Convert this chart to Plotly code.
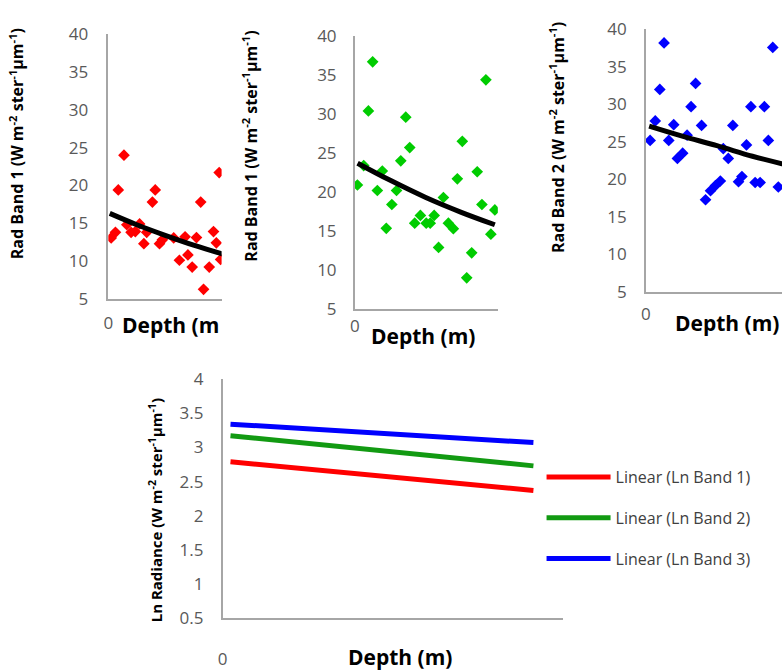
import plotly.graph_objects as go

W, H = 782, 671


def fx(px):
    return px / W


def fy(py):
    return 1 - py / H


# ---------------- data ----------------
# Panel 1: Rad Band 1 (red)
p1_depth = [0.2, 0.5, 0.7, 1.1, 1.3, 1.6, 1.9, 2.2, 2.5, 2.7, 3.1, 3.3, 3.6, 3.8,
            4.6, 5.0, 5.4, 5.6, 5.9, 6.2, 6.5, 6.7, 7.1, 7.4, 7.6, 7.8, 7.9]
p1_rad = [13.05, 13.8, 19.4, 24.0, 14.8, 13.8, 13.9, 14.9, 12.3, 13.8, 17.8, 19.4, 12.3, 12.8,
          13.05, 10.1, 13.2, 10.8, 9.2, 13.1, 17.8, 6.25, 9.2, 13.9, 12.4, 21.7, 10.2]
p1_trend_depth = [0.1, 2.0, 4.0, 6.0, 8.0, 10.0]
p1_trend_rad = [16.3, 14.8, 13.4, 12.1, 10.95, 9.9]

# Panel 2: Rad Band 1 (green)
p2_depth = [0.19, 0.63, 0.96, 1.26, 1.59, 1.94, 2.22, 2.61, 2.94, 3.24, 3.59, 3.87, 4.22, 4.62,
            5.03, 5.31, 5.59, 5.90, 6.24, 6.59, 6.94, 7.22, 7.57, 7.88, 8.23, 8.62, 8.95, 9.23,
            9.58, 9.86]
p2_rad = [20.9, 23.4, 30.4, 36.7, 20.2, 22.7, 15.35, 18.4, 20.2, 24.0, 29.6, 25.7, 16.0, 17.0,
          16.0, 16.0, 17.0, 12.9, 19.3, 16.0, 15.3, 21.7, 26.5, 9.0, 12.2, 22.6, 18.4, 34.4,
          14.6, 17.7]
p2_trend_depth = [0.2, 2.5, 5.0, 7.5, 9.86]
p2_trend_rad = [23.7, 21.5, 19.3, 17.4, 15.8]

# Panel 3: Rad Band 2 (blue)
p3_depth = [0.30, 0.66, 0.98, 1.28, 1.61, 1.96, 2.22, 2.59, 2.90, 3.18, 3.50, 3.92, 4.20, 4.55,
            4.90, 5.24, 5.45, 5.80, 6.12, 6.52, 6.76, 7.08, 7.39, 7.69, 8.04, 8.34, 8.62, 8.93,
            9.32]
p3_rad = [25.2, 27.8, 32.0, 38.2, 25.2, 27.3, 22.8, 23.5, 25.9, 29.7, 32.8, 27.2, 17.3, 18.5,
          19.2, 19.8, 24.1, 22.8, 27.2, 19.7, 20.4, 24.6, 29.7, 19.6, 19.6, 29.7, 25.2, 37.6,
          19.0]
p3_trend_depth = [0.23, 2.5, 5.0, 7.5, 9.58, 10.5]
p3_trend_rad = [27.1, 25.8, 24.5, 23.1, 22.1, 21.7]

# Bottom: linear trends of Ln radiance
ln_depth = [0.26, 10.26]
ln_band1 = [2.79, 2.37]
ln_band2 = [3.17, 2.73]
ln_band3 = [3.34, 3.07]

rad_ticks = [5, 10, 15, 20, 25, 30, 35, 40]
ln_ticks = [0.5, 1, 1.5, 2, 2.5, 3, 3.5, 4]
ln_ticktext = ["0.5", "1", "1.5", "2", "2.5", "3", "3.5", "4"]

# ---------------- styles ----------------
FONT = "Open Sans"
TICK_FONT = dict(family=FONT, size=17, color="#595959")
AX_COLOR = "#A6A6A6"
RED, GREEN_PT, GREEN_LN, BLUE = "#FF0000", "#00CC00", "#129A12", "#0000FF"

fig = go.Figure()

# Top panels
for (dx, dy, col, ax) in [
    (p1_depth, p1_rad, RED, ""),
    (p2_depth, p2_rad, GREEN_PT, "2"),
    (p3_depth, p3_rad, BLUE, "3"),
]:
    fig.add_trace(go.Scatter(x=dx, y=dy, mode="markers", showlegend=False,
                             marker=dict(symbol="diamond", size=9, color=col),
                             xaxis="x" + ax, yaxis="y" + ax))

for (tx, ty, ax) in [
    (p1_trend_depth, p1_trend_rad, ""),
    (p2_trend_depth, p2_trend_rad, "2"),
    (p3_trend_depth, p3_trend_rad, "3"),
]:
    fig.add_trace(go.Scatter(x=tx, y=ty, mode="lines", showlegend=False,
                             line=dict(color="black", width=5, shape="spline"),
                             xaxis="x" + ax, yaxis="y" + ax))

# Bottom panel
for (vals, col, name, grp) in [
    (ln_band1, RED, "Linear (Ln Band 1)", "g1"),
    (ln_band2, GREEN_LN, "Linear (Ln Band 2)", "g2"),
    (ln_band3, BLUE, "Linear (Ln Band 3)", "g3"),
]:
    fig.add_trace(go.Scatter(x=ln_depth, y=vals, mode="lines", name=name, legendgroup=grp,
                             line=dict(color=col, width=5), xaxis="x4", yaxis="y4"))


def xax(d0, d1, rng, standoff):
    return dict(domain=[fx(d0), fx(d1)], range=rng, showline=True, linecolor=AX_COLOR,
                linewidth=1.5, showgrid=False, zeroline=False, tickvals=[0], ticktext=["0"],
                ticks="", tickfont=TICK_FONT, ticklabelstandoff=standoff, fixedrange=True)


def yax(top, bot, rng, tv, tt, standoff, anchor):
    return dict(domain=[fy(bot), fy(top)], range=rng, showline=True, linecolor=AX_COLOR,
                linewidth=1.5, showgrid=False, zeroline=False, tickvals=tv, ticktext=tt,
                ticks="", tickfont=TICK_FONT, ticklabelstandoff=standoff, anchor=anchor,
                fixedrange=True)


rad_tt = [str(v) for v in rad_ticks]
layout_axes = dict(
    xaxis=xax(104, 218, [0, 7.97], 8),
    yaxis=yax(23, 297, [5, 40], rad_ticks, rad_tt, 15, "x"),
    xaxis2=xax(352, 496, [0, 10.07], 1),
    yaxis2=yax(25, 307.5, [5, 40], rad_ticks, rad_tt, 13, "x2"),
    xaxis3=xax(645, 782, [0, 9.58], 6),
    yaxis3=yax(18, 290, [5, 40], rad_ticks, rad_tt, 14, "x3"),
    xaxis4=xax(219, 562, [0, 11.25], 24),
    yaxis4=yax(380, 628, [0.5, 4], ln_ticks, ln_ticktext, 14, "x4"),
)
layout_axes["xaxis"]["anchor"] = "y"
layout_axes["xaxis2"]["anchor"] = "y2"
layout_axes["xaxis3"]["anchor"] = "y3"
layout_axes["xaxis4"]["anchor"] = "y4"

TITLE_FONT = dict(family=FONT, size=16, color="black")
TITLE_FONT_LN = dict(family=FONT, size=15, color="black")
DEPTH_FONT = dict(family=FONT, size=21, color="black")
rad1 = "<b>Rad Band 1 (W m<sup>-2</sup> ster<sup>-1</sup>µm<sup>-1</sup>)</b>"
rad2 = "<b>Rad Band 2 (W m<sup>-2</sup> ster<sup>-1</sup>µm<sup>-1</sup>)</b>"
lnrad = "<b>Ln Radiance (W m<sup>-2</sup> ster<sup>-1</sup>µm<sup>-1</sup>)</b>"

annotations = [
    dict(text=rad1, x=fx(12), y=fy(136), textangle=-90, font=TITLE_FONT),
    dict(text=rad1, x=fx(247), y=fy(139), textangle=-90, font=TITLE_FONT),
    dict(text=rad2, x=fx(555), y=fy(130), textangle=-90, font=TITLE_FONT),
    dict(text=lnrad, x=fx(151), y=fy(516), textangle=-90, font=TITLE_FONT_LN),
    dict(text="<b>Depth (m</b>", x=fx(116), y=fy(324), xanchor="left", font=DEPTH_FONT),
    dict(text="<b>Depth (m)</b>", x=fx(421), y=fy(335), font=DEPTH_FONT),
    dict(text="<b>Depth (m)</b>", x=fx(727), y=fy(322), font=DEPTH_FONT),
    dict(text="<b>Depth (m)</b>", x=fx(398), y=fy(668), font=DEPTH_FONT),
]
for a in annotations:
    a.setdefault("xanchor", "center")
    a.update(xref="paper", yref="paper", showarrow=False, yanchor="middle")

fig.update_layout(
    width=W, height=H, margin=dict(l=0, r=0, t=0, b=0),
    paper_bgcolor="white", plot_bgcolor="white",
    showlegend=True,
    legend=dict(x=fx(540), y=fy(464), xanchor="left", yanchor="top",
                font=dict(family=FONT, size=16, color="#404040"),
                itemwidth=64, tracegroupgap=17, bgcolor="rgba(0,0,0,0)"),
    annotations=annotations,
    **layout_axes,
)

fig.write_html("out.html")
